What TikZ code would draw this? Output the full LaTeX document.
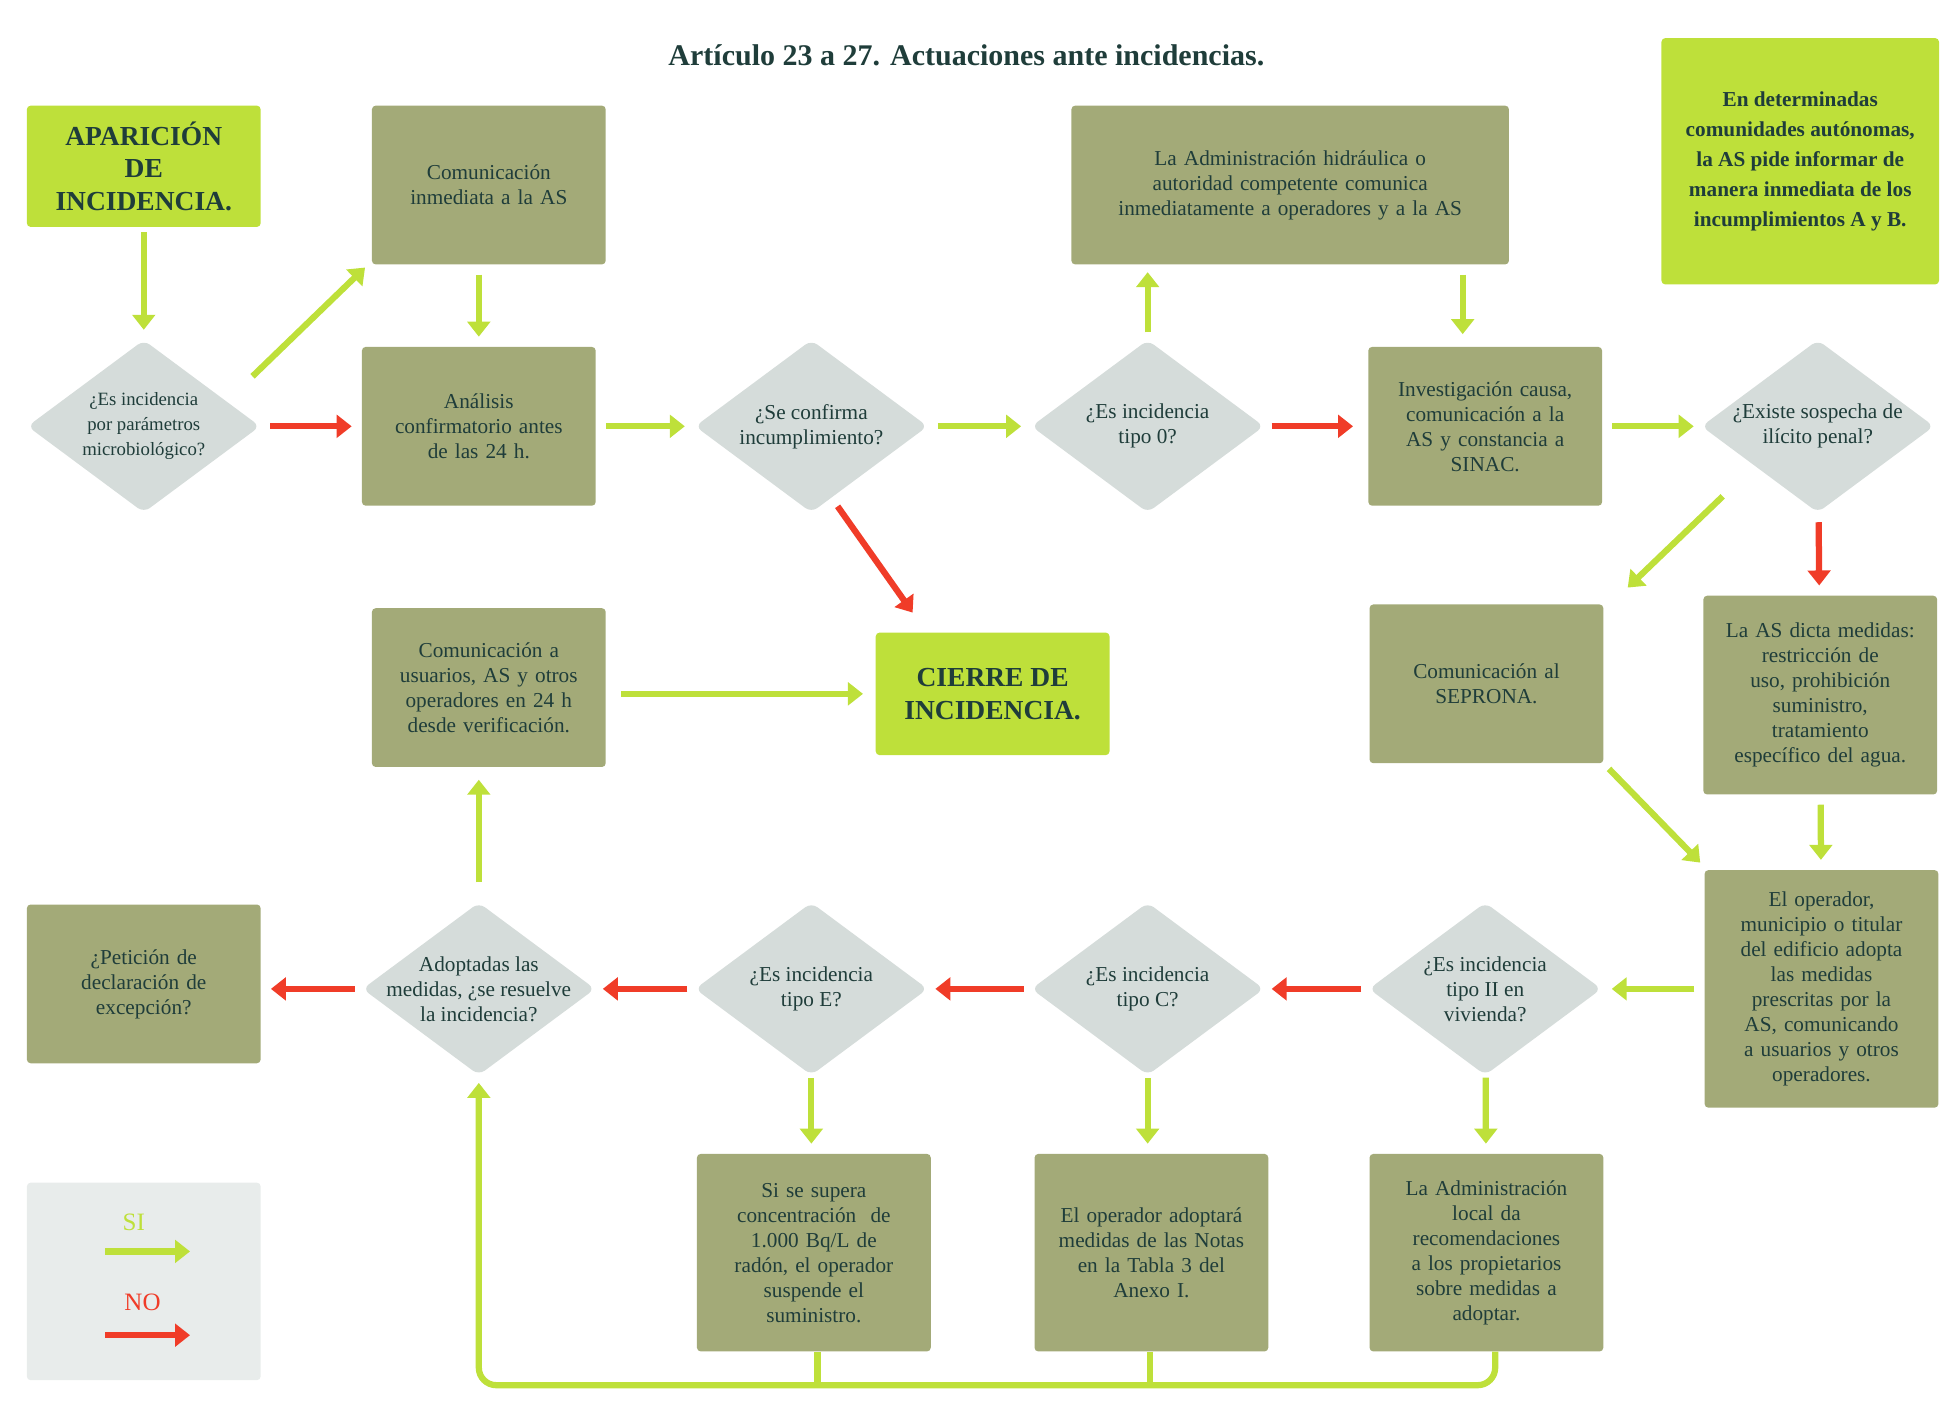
\documentclass[tikz,border=0pt]{standalone}
\usepackage{fontspec}
\setmainfont{Liberation Serif}
\usetikzlibrary{arrows.meta,shapes.geometric}
\definecolor{olive}{HTML}{A3AA78}
\definecolor{lime}{HTML}{BEE03A}
\definecolor{rhomb}{HTML}{D5DCDA}
\definecolor{ink}{HTML}{1F3D3A}
\definecolor{alarm}{HTML}{F03C28}
\definecolor{legendbg}{HTML}{E8ECEB}
\begin{document}
\begin{tikzpicture}[x=1pt,y=-1pt,font=\fontsize{17}{20}\selectfont,text=ink]
\tikzstyle{block} = [rectangle, fill=olive, rounded corners=3pt, text width=175pt,
align=center, minimum width=187pt, minimum height=127pt, inner sep=4pt]
\tikzstyle{start} = [rectangle, fill=lime, rounded corners=3pt, align=center,
font=\fontsize{22}{26}\selectfont\bfseries, minimum width=187pt]
\tikzstyle{decision} = [diamond, fill=rhomb, rounded corners=6pt, align=center,
minimum width=186pt, minimum height=138pt, inner sep=-30pt]
\tikzstyle{yes} = [draw=lime, line width=5pt, -{Triangle[length=12pt,width=18pt]}]
\tikzstyle{no} = [draw=alarm, line width=5pt, -{Triangle[length=12pt,width=18pt]}]
\useasboundingbox (0,0) rectangle (1563,1138);
% title
\node (title) at (773,44) {\fontsize{24}{28}\selectfont\bfseries Artículo 23 a 27. Actuaciones ante incidencias.};
% row 1
\node [start, minimum height=97pt] (origin) at (115,133) {APARICIÓN\\DE\\INCIDENCIA.};
\node [block] (notify) at (391,148) {Comunicación\\inmediata a la AS};
\node [block, minimum width=350pt, text width=340pt] (hydro) at (1032,148)
  {La Administración hidráulica o\\autoridad competente comunica\\inmediatamente a operadores y a la AS};
\node [rectangle, fill=lime, rounded corners=3pt, minimum width=222pt, minimum height=197pt,
  align=center, font=\fontsize{17}{24}\selectfont\bfseries] (regions) at (1440,129)
  {En determinadas\\comunidades autónomas,\\la AS pide informar de\\manera inmediata de los\\incumplimientos A y B.};
% row 2
\node [decision, font=\fontsize{15}{20}\selectfont] (micro) at (115,341) {¿Es incidencia\\por parámetros\\microbiológico?};
\node [block] (check) at (383,341) {Análisis\\confirmatorio antes\\de las 24 h.};
\node [decision] (confirm) at (649,341) {¿Se confirma\\incumplimiento?};
\node [decision] (zero) at (918,341) {¿Es incidencia\\tipo 0?};
\node [block] (cause) at (1188,341) {Investigación causa,\\comunicación a la\\AS y constancia a\\SINAC.};
\node [decision] (crime) at (1454,341) {¿Existe sospecha de\\ilícito penal?};
% row 3
\node [block] (users) at (391,550) {Comunicación a\\usuarios, AS y otros\\operadores en 24 h\\desde verificación.};
\node [start, minimum height=98pt] (close) at (794,555) {CIERRE DE\\INCIDENCIA.};
\node [block] (seprona) at (1189,547) {Comunicación al\\SEPRONA.};
\node [block, minimum height=159pt] (measures) at (1456,556)
  {La AS dicta medidas:\\restricción de\\uso, prohibición\\suministro,\\tratamiento\\específico del agua.};
% row 4
\node [block] (waiver) at (115,787) {¿Petición de\\declaración de\\excepción?};
\node [decision] (solved) at (383,791) {Adoptadas las\\medidas, ¿se resuelve\\la incidencia?};
\node [decision] (typeE) at (649,791) {¿Es incidencia\\tipo E?};
\node [decision] (typeC) at (918,791) {¿Es incidencia\\tipo C?};
\node [decision] (typeII) at (1188,791) {¿Es incidencia\\tipo II en\\vivienda?};
\node [block, minimum height=190pt] (owner) at (1457,791)
  {El operador,\\municipio o titular\\del edificio adopta\\las medidas\\prescritas por la\\AS, comunicando\\a usuarios y otros\\operadores.};
% row 5
\node [block, minimum height=158pt] (radon) at (651,1002)
  {Si se supera\\concentración~ de\\1.000 Bq/L de\\radón, el operador\\suspende el\\suministro.};
\node [block, minimum height=158pt] (table) at (921,1002)
  {El operador adoptará\\medidas de las Notas\\en la Tabla 3 del\\Anexo I.};
\node [block, minimum height=158pt] (local) at (1189,1002)
  {La Administración\\local da\\recomendaciones\\a los propietarios\\sobre medidas a\\adoptar.};
% legend
\node [rectangle, fill=legendbg, rounded corners=3pt, minimum width=187pt, minimum height=158pt] (legend) at (115,1025) {};
\node [text=lime, font=\fontsize{20}{24}\selectfont] (si) at (107,978) {SI};
\node [text=alarm, font=\fontsize{20}{24}\selectfont] (nolbl) at (114,1042) {NO};
\coordinate (sia) at (84,1001); \coordinate (sib) at (152,1001);
\coordinate (noa) at (84,1068); \coordinate (nob) at (152,1068);
\draw [yes] (sia) -- (sib);
\draw [no] (noa) -- (nob);
% connectors
\draw [yes, shorten <=4pt, shorten >=8pt] (origin) -- (micro);
\draw [yes] (202,301) -- (292,214);
\draw [no, shorten <=8pt, shorten >=8pt] (micro) -- (check);
\draw [yes, shorten <=8pt, shorten >=8pt] (notify.south -| check) -- (check);
\draw [yes, shorten <=8pt, shorten >=8pt] (check) -- (confirm);
\draw [no] (670,405) -- (730,490);
\draw [yes, shorten <=8pt, shorten >=8pt] (confirm) -- (zero);
\draw [yes, shorten <=6pt, shorten >=6pt] (zero) -- (zero |- hydro.south);
\draw [no, shorten <=6pt, shorten >=12pt] (zero) -- (cause);
\draw [yes, shorten <=8pt, shorten >=10pt] (hydro.south -| 1170,0) -- (cause.north -| 1170,0);
\draw [yes, shorten <=8pt, shorten >=6pt] (cause) -- (crime);
\draw [yes] (1378,397) -- (1302,470);
\draw [no, shorten <=8pt, shorten >=8pt] (crime) -- (measures);
\draw [yes] (1287,615) -- (1360,690);
\draw [yes, shorten <=8pt, shorten >=8pt] (measures) -- (owner);
\draw [yes, shorten <=8pt, shorten >=8pt] (owner) -- (typeII);
\draw [no, shorten <=6pt, shorten >=6pt] (typeII) -- (typeC);
\draw [no, shorten <=6pt, shorten >=6pt] (typeC) -- (typeE);
\draw [no, shorten <=6pt, shorten >=6pt] (typeE) -- (solved);
\draw [no, shorten <=6pt, shorten >=8pt] (solved.west) -- (waiver.east |- solved);
\draw [yes, shorten <=16pt, shorten >=10pt] (solved) -- (solved |- users.south);
\draw [yes, shorten <=12pt, shorten >=10pt] (users.east |- close) -- (close);
\draw [yes, shorten <=2pt, shorten >=8pt] (typeII) -- (local);
\draw [yes, shorten <=2pt, shorten >=8pt] (typeC) -- (table.north -| typeC);
\draw [yes, shorten <=2pt, shorten >=8pt] (typeE) -- (radon.north -| typeE);
\draw [draw=lime, line width=5pt] (radon.south -| 654,0) -- (654,1108);
\draw [draw=lime, line width=5pt] (table.south -| 920,0) -- (920,1108);
\draw [draw=lime, line width=5pt, rounded corners=14pt, -{Triangle[length=12pt,width=18pt]}, shorten >=6pt]
  (local.south -| 1196,0) -- (1196,1108) -- (383,1108) -- (solved.south);
\end{tikzpicture}
\end{document}
